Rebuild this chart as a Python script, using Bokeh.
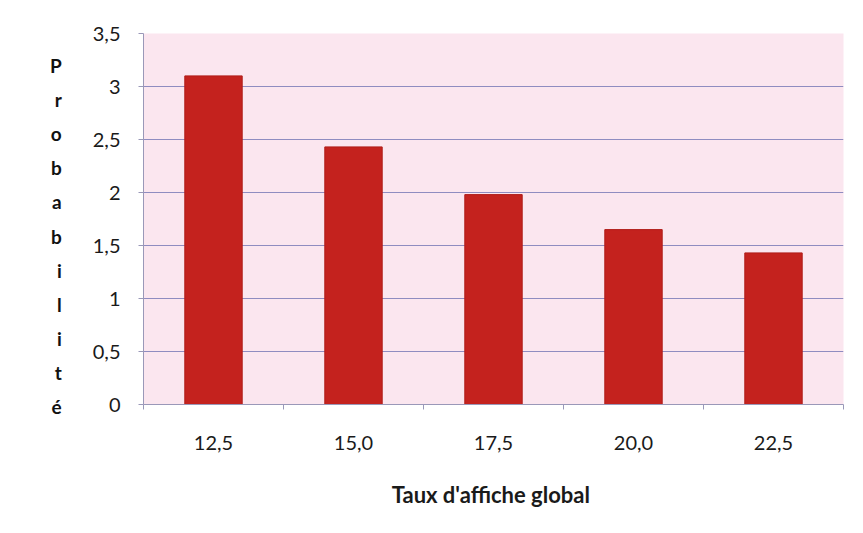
from bokeh.plotting import figure
from bokeh.models import FixedTicker, Range1d
from bokeh.embed import file_html
from bokeh.resources import INLINE

categories = ["12,5", "15,0", "17,5", "20,0", "22,5"]
values = [3.10, 2.43, 1.98, 1.65, 1.43]
y_ticks = [0, 0.5, 1, 1.5, 2, 2.5, 3, 3.5]
y_tick_labels = ["0", "0,5", "1", "1,5", "2", "2,5", "3", "3,5"]
y_title = "Probabilité"
x_title = "Taux d'affiche  global"

FONT = "Lato"

p = figure(width=847, height=517, output_backend="svg", toolbar_location=None,
           x_range=Range1d(0, len(categories)), y_range=Range1d(0, 3.5),
           min_border_left=143, min_border_right=4, min_border_top=33, min_border_bottom=113)
p.background_fill_color = "#fbe6ef"
p.border_fill_color = "#ffffff"
p.outline_line_color = None

xs = [i + 0.5 for i in range(len(categories))]
p.vbar(x=xs, top=values, width=0.41, bottom=0, fill_color="#c4221e", line_color="#b01c18", line_width=1)

# x axis
p.xaxis.ticker = FixedTicker(ticks=xs, minor_ticks=list(range(len(categories) + 1)))
p.xaxis.major_label_overrides = {x: c for x, c in zip(xs, categories)}
p.xaxis.major_tick_out = 0
p.xaxis.major_tick_in = 0
p.xaxis.minor_tick_out = 5
p.xaxis.minor_tick_in = 0
p.xaxis.minor_tick_line_color = "#9a98b8"
p.xaxis.axis_line_color = "#9a98b8"
p.xaxis.major_label_text_font = FONT
p.xaxis.major_label_text_font_size = "20px"
p.xaxis.major_label_text_color = "#1a1a1a"
p.xaxis.major_label_standoff = 26
p.xaxis.axis_label = x_title
p.xaxis.axis_label_text_font = FONT
p.xaxis.axis_label_text_font_style = "bold"
p.xaxis.axis_label_text_font_size = "22px"
p.xaxis.axis_label_text_color = "#1a1a1a"
p.xaxis.axis_label_standoff = 28

# y axis
p.yaxis.ticker = FixedTicker(ticks=y_ticks)
p.yaxis.major_label_overrides = {t: l for t, l in zip(y_ticks, y_tick_labels)}
p.yaxis.major_tick_out = 5
p.yaxis.major_tick_in = 0
p.yaxis.minor_tick_out = 0
p.yaxis.major_tick_line_color = "#9a98b8"
p.yaxis.axis_line_color = "#9a98b8"
p.yaxis.major_label_text_font = FONT
p.yaxis.major_label_text_font_size = "20px"
p.yaxis.major_label_text_color = "#1a1a1a"
p.yaxis.major_label_standoff = 18

# stacked vertical y title (leading blank line shifts the stack down half a line)
p.yaxis.axis_label = " \n" + "\n".join(y_title)
p.yaxis.axis_label_orientation = "horizontal"
p.yaxis.axis_label_text_font = FONT
p.yaxis.axis_label_text_font_style = "bold"
p.yaxis.axis_label_text_font_size = "19px"
p.yaxis.axis_label_text_line_height = 1.48
p.yaxis.axis_label_text_color = "#111111"
p.yaxis.axis_label_standoff = 28

p.xgrid.grid_line_color = None
p.ygrid.grid_line_color = "#8f8cc0"
p.ygrid.grid_line_width = 1

open("out.html", "w").write(file_html(p, INLINE))
